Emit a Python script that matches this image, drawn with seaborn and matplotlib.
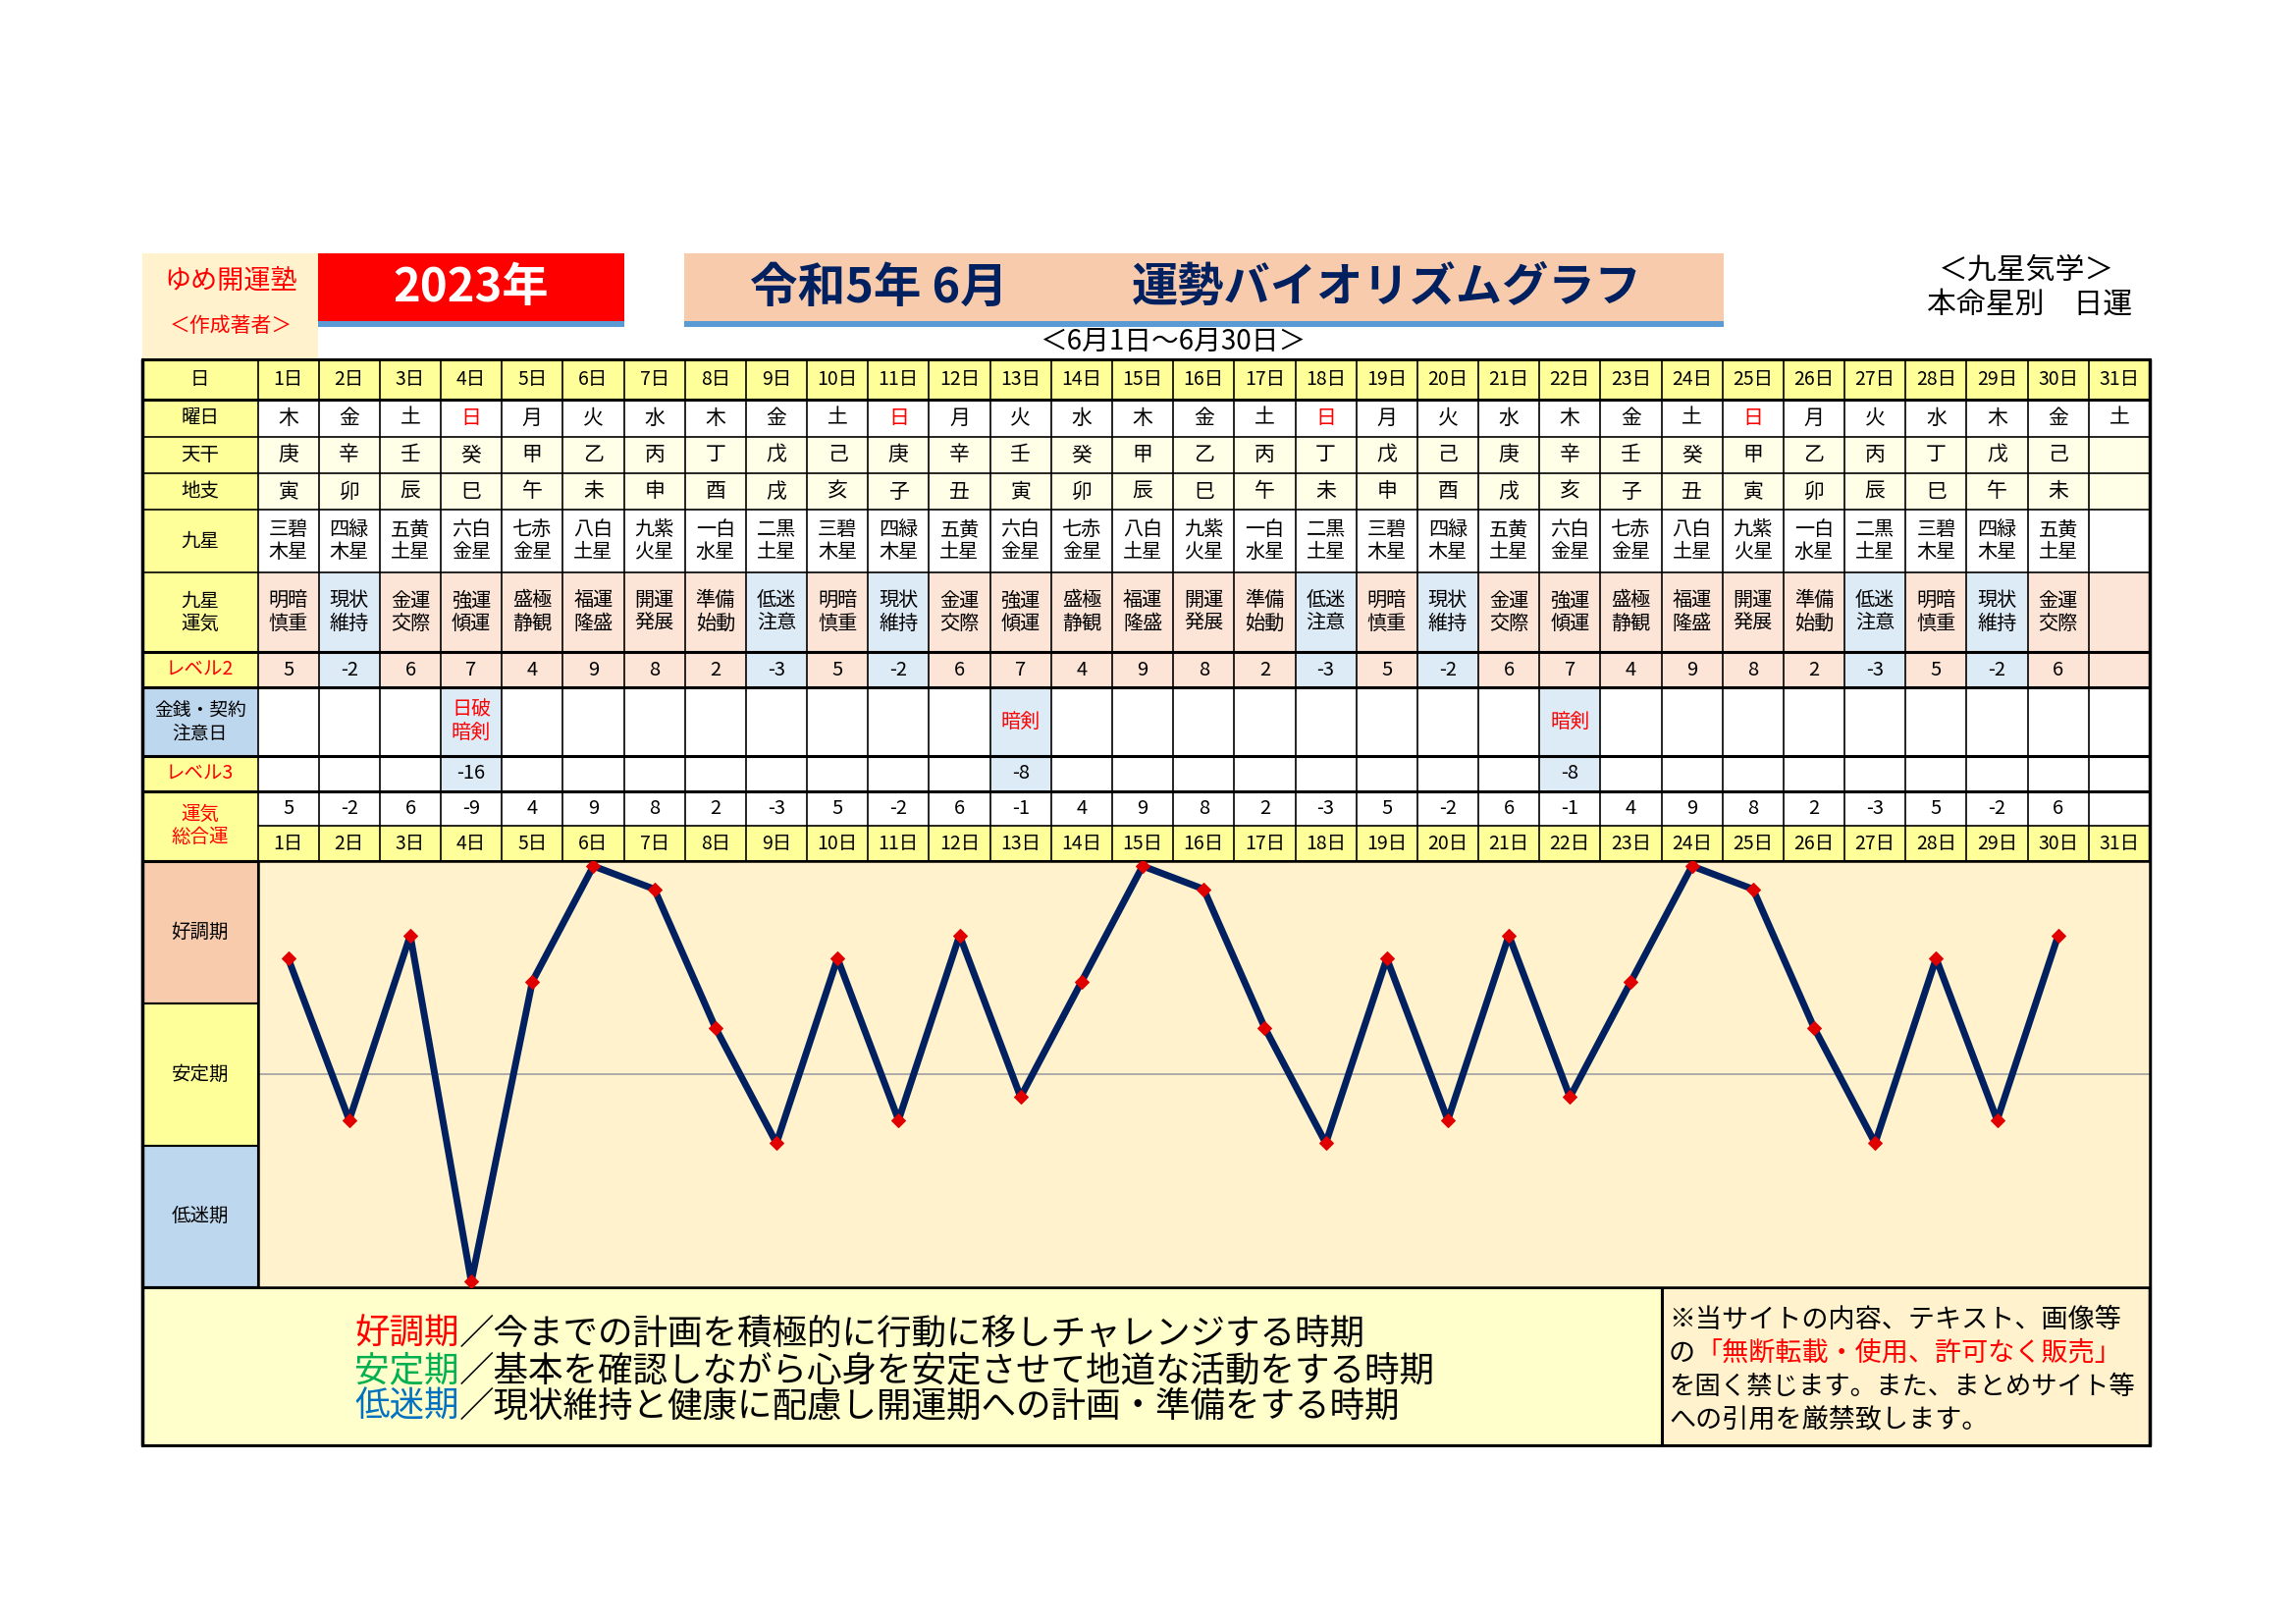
import matplotlib
matplotlib.use('Agg')
import matplotlib.pyplot as plt
from matplotlib.patches import Rectangle
import seaborn as sns
import pandas as pd

# ---- data ----
days = list(range(1, 32))
weekdays = ['木', '金', '土', '日', '月', '火', '水', '木', '金', '土', '日', '月', '火', '水', '木', '金',
            '土', '日', '月', '火', '水', '木', '金', '土', '日', '月', '火', '水', '木', '金', '土']
tenkan = ['庚', '辛', '壬', '癸', '甲', '乙', '丙', '丁', '戊', '己', '庚', '辛', '壬', '癸', '甲', '乙',
          '丙', '丁', '戊', '己', '庚', '辛', '壬', '癸', '甲', '乙', '丙', '丁', '戊', '己', '']
chishi = ['寅', '卯', '辰', '巳', '午', '未', '申', '酉', '戌', '亥', '子', '丑', '寅', '卯', '辰', '巳',
          '午', '未', '申', '酉', '戌', '亥', '子', '丑', '寅', '卯', '辰', '巳', '午', '未', '']
kyusei = ['三碧\n木星', '四緑\n木星', '五黄\n土星', '六白\n金星', '七赤\n金星', '八白\n土星', '九紫\n火星',
          '一白\n水星', '二黒\n土星', '三碧\n木星', '四緑\n木星', '五黄\n土星', '六白\n金星', '七赤\n金星',
          '八白\n土星', '九紫\n火星', '一白\n水星', '二黒\n土星', '三碧\n木星', '四緑\n木星', '五黄\n土星',
          '六白\n金星', '七赤\n金星', '八白\n土星', '九紫\n火星', '一白\n水星', '二黒\n土星', '三碧\n木星',
          '四緑\n木星', '五黄\n土星', '']
unki = ['明暗\n慎重', '現状\n維持', '金運\n交際', '強運\n傾運', '盛極\n静観', '福運\n隆盛', '開運\n発展',
        '準備\n始動', '低迷\n注意', '明暗\n慎重', '現状\n維持', '金運\n交際', '強運\n傾運', '盛極\n静観',
        '福運\n隆盛', '開運\n発展', '準備\n始動', '低迷\n注意', '明暗\n慎重', '現状\n維持', '金運\n交際',
        '強運\n傾運', '盛極\n静観', '福運\n隆盛', '開運\n発展', '準備\n始動', '低迷\n注意', '明暗\n慎重',
        '現状\n維持', '金運\n交際', '']
level2 = [5, -2, 6, 7, 4, 9, 8, 2, -3, 5, -2, 6, 7, 4, 9, 8, 2, -3, 5, -2, 6, 7, 4, 9, 8, 2, -3, 5, -2, 6, None]
caution = ['', '', '', '日破\n暗剣', '', '', '', '', '', '', '', '', '暗剣', '', '', '', '', '', '', '', '',
           '暗剣', '', '', '', '', '', '', '', '', '']
level3 = [None, None, None, -16, None, None, None, None, None, None, None, None, -8, None, None, None, None,
          None, None, None, None, -8, None, None, None, None, None, None, None, None, None]
total = [5, -2, 6, -9, 4, 9, 8, 2, -3, 5, -2, 6, -1, 4, 9, 8, 2, -3, 5, -2, 6, -1, 4, 9, 8, 2, -3, 5, -2, 6]

legend_heads = ['好調期', '安定期', '低迷期']
legend_texts = ['／今までの計画を積極的に行動に移しチャレンジする時期',
                '／基本を確認しながら心身を安定させて地道な活動をする時期',
                '／現状維持と健康に配慮し開運期への計画・準備をする時期']

# ---- colours ----
YEL = '#FFFF99'
PALE = '#FFFFE8'
PINK = '#FCE4D6'
LBLUE = '#DDEBF7'
BLUE = '#BDD7EE'
PEACH = '#F8CBAD'
CREAM = '#FFF2CC'
NAVY = '#002060'
RED = '#FF0000'

sns.set_theme(style='white')
plt.rcParams['font.family'] = ['Noto Sans CJK JP', 'DejaVu Sans']

W, H = 2339, 1654
fig = plt.figure(figsize=(W / 100, H / 100), dpi=100)
fig.patch.set_facecolor('white')
page = fig.add_axes([0, 0, 1, 1])
page.set_xlim(0, W)
page.set_ylim(H, 0)
page.axis('off')


def box(x0, y0, x1, y1, fc, ec='none', lw=0, z=1):
    page.add_patch(Rectangle((x0, y0), x1 - x0, y1 - y0, facecolor=fc, edgecolor=ec, linewidth=lw, zorder=z))


def txt(x, y, s, size, color='black', weight='normal', ha='center', ls=1.15):
    return page.text(x, y, s, ha=ha, va='center', fontsize=size, color=color, fontweight=weight,
                     linespacing=ls, zorder=5)


# ---- header ----
box(145, 258, 324, 365.5, CREAM)
txt(235, 287, 'ゆめ開運塾', 19.5, RED)
txt(235, 332, '＜作成著者＞', 15, RED)
box(324, 258, 636, 327, RED)
box(324, 327, 636, 333, '#5B9BD5')
txt(480, 293, '2023年', 34, 'white', 'bold')
box(697, 258, 1756, 327, PEACH)
box(697, 327, 1756, 333, '#5B9BD5')
txt(895, 293, '令和5年 6月', 35, NAVY, 'bold')
txt(1413, 293, '運勢バイオリズムグラフ', 34, NAVY, 'bold')
txt(1195, 348, '＜6月1日～6月30日＞', 20)
txt(2064, 275, '＜九星気学＞', 21.5)
txt(2068, 310, '本命星別　日運', 21.5)

# ---- table ----
L, C0, R = 145, 262.5, 2190
CW = (R - C0) / 31
rows_y = [365.5, 407, 444.5, 482, 519, 583, 664, 700, 770, 805.5, 841, 877]
labels = ['日', '曜日', '天干', '地支', '九星', '九星\n運気', 'レベル2', '金銭・契約\n注意日', 'レベル3', '運気\n総合運']
label_col = ['black', 'black', 'black', 'black', 'black', 'black', RED, 'black', RED, RED]
label_bg = [YEL, YEL, YEL, YEL, YEL, YEL, YEL, BLUE, YEL, YEL]
label_size = [14, 14, 14, 14, 14, 14, 14, 13.5, 14, 14]

for r, lab in enumerate(labels):
    y0 = rows_y[r]
    y1 = rows_y[r + 1] if r < 9 else rows_y[11]
    box(L, y0, C0, y1, label_bg[r])
    txt((L + C0) / 2, (y0 + y1) / 2, lab, label_size[r], label_col[r])

rows = [[f'{d}日' for d in days], weekdays, tenkan, chishi, kyusei, unki,
        [str(v) if v is not None else '' for v in level2], caution,
        [str(v) if v is not None else '' for v in level3],
        [str(v) for v in total] + [''], [f'{d}日' for d in days]]
row_size = [14, 15, 15, 15, 14.5, 14.5, 14.5, 14.5, 14.5, 14.5, 14]

for i in range(31):
    x0 = C0 + i * CW
    xc = x0 + CW / 2
    neg = level2[i] is not None and level2[i] < 0
    for r in range(11):
        y0, y1 = rows_y[r], rows_y[r + 1]
        if r in (0, 10):
            fc = YEL
        elif r in (2, 3):
            fc = PALE
        elif r in (5, 6):
            fc = LBLUE if neg else PINK
        elif r in (7, 8):
            fc = LBLUE if caution[i] else 'white'
        else:
            fc = 'white'
        box(x0, y0, x0 + CW, y1, fc)
        col = 'black'
        if (r == 1 and rows[r][i] == '日') or r == 7:
            col = RED
        txt(xc, (y0 + y1) / 2, rows[r][i], row_size[r], col)

# grid lines
for k, y in enumerate(rows_y):
    lw = 2.2 if k in (0, 1, 6, 7, 8, 9, 11) else 1.2
    page.plot([L if k != 10 else C0, R], [y, y], color='black', lw=lw, zorder=3)
for i in range(32):
    x = C0 + i * CW
    page.plot([x, x], [rows_y[0], rows_y[-1]], color='black', lw=1.2, zorder=3)
page.plot([L, L], [rows_y[0], 1472], color='black', lw=2.5, zorder=3)
page.plot([R, R], [rows_y[0], 1472], color='black', lw=2.5, zorder=3)

# chart side labels
bands = [(877, 1022, PEACH, '好調期'), (1022, 1166.5, YEL, '安定期'), (1166.5, 1310.5, BLUE, '低迷期')]
for y0, y1, fc, lab in bands:
    box(L, y0, C0, y1, fc, 'black', 1.5)
    txt((L + C0) / 2, (y0 + y1) / 2, lab, 14)

# ---- biorhythm chart ----
cax = fig.add_axes([C0 / W, 1 - 1310.5 / H, (R - C0) / W, (1310.5 - 877) / H])
cax.set_facecolor(CREAM)
df = pd.DataFrame({'day': days[:30], 'total': total})
cax.axhline(0, color='#A6A6A6', lw=1.3, zorder=1)
sns.lineplot(data=df, x='day', y='total', ax=cax, color=NAVY, linewidth=5, marker='D',
             markersize=7.5, markerfacecolor='#E00000', markeredgecolor='#E00000', zorder=3)
cax.set_xlim(0.5, 31.5)
cax.set_ylim(-9.215, 9.215)
cax.set_xticks([])
cax.set_yticks([])
cax.set_xlabel('')
cax.set_ylabel('')
for s in cax.spines.values():
    s.set_visible(True)
    s.set_color('black')
    s.set_linewidth(1.8)

# ---- bottom legend ----
box(L, 1310.5, 1693, 1472, '#FFFFCC', 'black', 2.2)
box(1693, 1310.5, R, 1472, CREAM, 'black', 2.2)
head_cols = [RED, '#00B050', '#0070C0']
for k, y in enumerate([1359, 1396, 1433]):
    t = txt(361, y, legend_heads[k], 25.6, head_cols[k], ha='left')
    page.annotate(legend_texts[k], xy=(1, 0.5), xycoords=t, va='center', ha='left',
                  fontsize=25.6, color='black', zorder=5)

txt(1700, 1344, '※当サイトの内容、テキスト、画像等', 19.5, ha='left')
t2 = txt(1700, 1378, 'の', 19.5, ha='left')
page.annotate('「無断転載・使用、許可なく販売」', xy=(1, 0.5), xycoords=t2, va='center', ha='left',
              fontsize=19.5, color=RED, zorder=5)
txt(1700, 1412, 'を固く禁じます。また、まとめサイト等', 19, ha='left')
txt(1700, 1447, 'への引用を厳禁致します。', 19.5, ha='left')

fig.savefig('out.png', dpi=100)
